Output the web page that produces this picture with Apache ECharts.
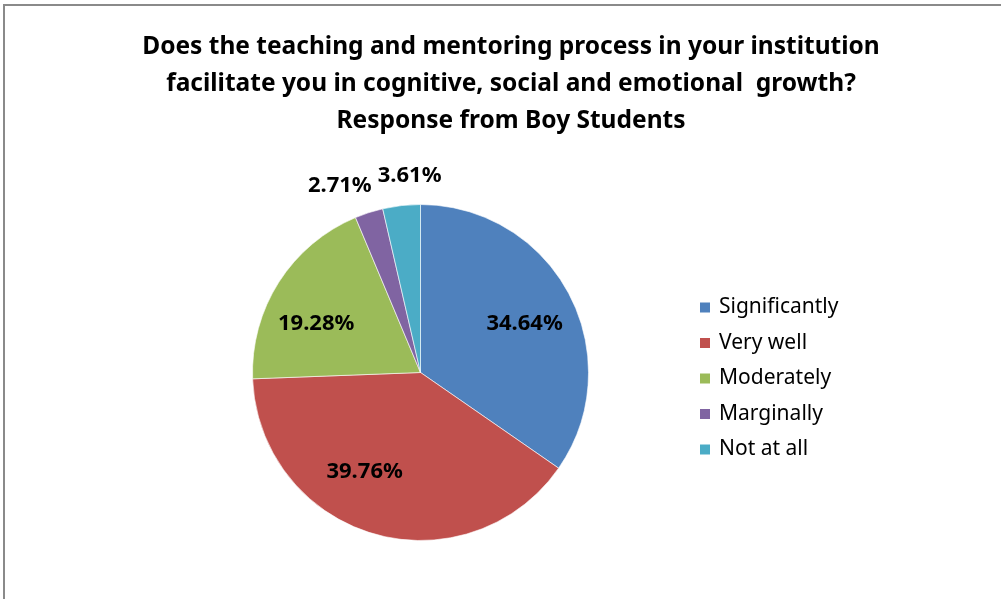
<!DOCTYPE html>
<html>
<head>
<meta charset="utf-8">
<title>Response from Boy Students</title>
<script src="https://cdn.jsdelivr.net/npm/echarts@6/dist/echarts.min.js"></script>
<style>
  html, body { margin: 0; padding: 0; background: #fff; }
  #pieChart { width: 1001px; height: 599px; }
</style>
</head>
<body>
<div id="pieChart"></div>
<script>
// chart data
const titleLines = [
  'Does the teaching and mentoring process in your institution',
  'facilitate you in cognitive, social and emotional  growth?',
  'Response from Boy Students'
]
const categories = ['Significantly', 'Very well', 'Moderately', 'Marginally', 'Not at all']
const shares = [34.64, 39.76, 19.28, 2.71, 3.61]
const colors = ['#4F81BD', '#C0504D', '#9BBB59', '#8064A2', '#4BACC6']

// label nudges so the percentages sit where the original ones do
const labelOffsets = [[27, -8], [-31.5, 16], [-31, -1.5], [-54, -104], [-1, -110.5]]

const fontName = 'Noto Sans, sans-serif'

let myChart = echarts.init(document.getElementById('pieChart'))

let pieData = categories.map((name, i) => ({
  name: name,
  value: shares[i],
  itemStyle: { color: colors[i] },
  label: { offset: labelOffsets[i] }
}))

let option = {
  animation: false,
  backgroundColor: '#fff',
  legend: {
    orient: 'vertical',
    left: 693,
    top: 292,
    icon: 'rect',
    itemWidth: 12,
    itemHeight: 12,
    itemGap: 14.5,
    data: categories,
    textStyle: {
      fontFamily: fontName,
      fontSize: 21,
      lineHeight: 21,
      color: '#000',
      padding: [0, 0, 0, 3]
    }
  },
  graphic: [{
    type: 'rect',
    shape: { x: 4, y: 5, width: 1100, height: 700 },
    style: { fill: 'none', stroke: '#8a8a8a', lineWidth: 2 },
    silent: true,
    z: -10
  }, {
    type: 'text',
    x: 511,
    y: 29,
    silent: true,
    style: {
      text: titleLines.join('\n'),
      textAlign: 'center',
      fontFamily: fontName,
      fontSize: 24.5,
      fontWeight: 'bold',
      lineHeight: 37,
      fill: '#000'
    }
  }],
  series: [{
    name: 'Response',
    type: 'pie',
    center: [420.5, 372.5],
    radius: 168,
    startAngle: 90,
    clockwise: true,
    avoidLabelOverlap: false,
    labelLayout: { hideOverlap: false },
    itemStyle: { borderColor: '#fff', borderWidth: 0.6 },
    label: {
      show: true,
      position: 'inside',
      formatter: p => p.value.toFixed(2) + '%',
      fontFamily: fontName,
      fontSize: 22,
      fontWeight: 'bold',
      color: '#000'
    },
    labelLine: { show: false },
    emphasis: { disabled: true },
    data: pieData
  }]
}
myChart.setOption(option, true)
window.addEventListener('resize', () => {
  myChart.resize()
})
</script>
</body>
</html>
